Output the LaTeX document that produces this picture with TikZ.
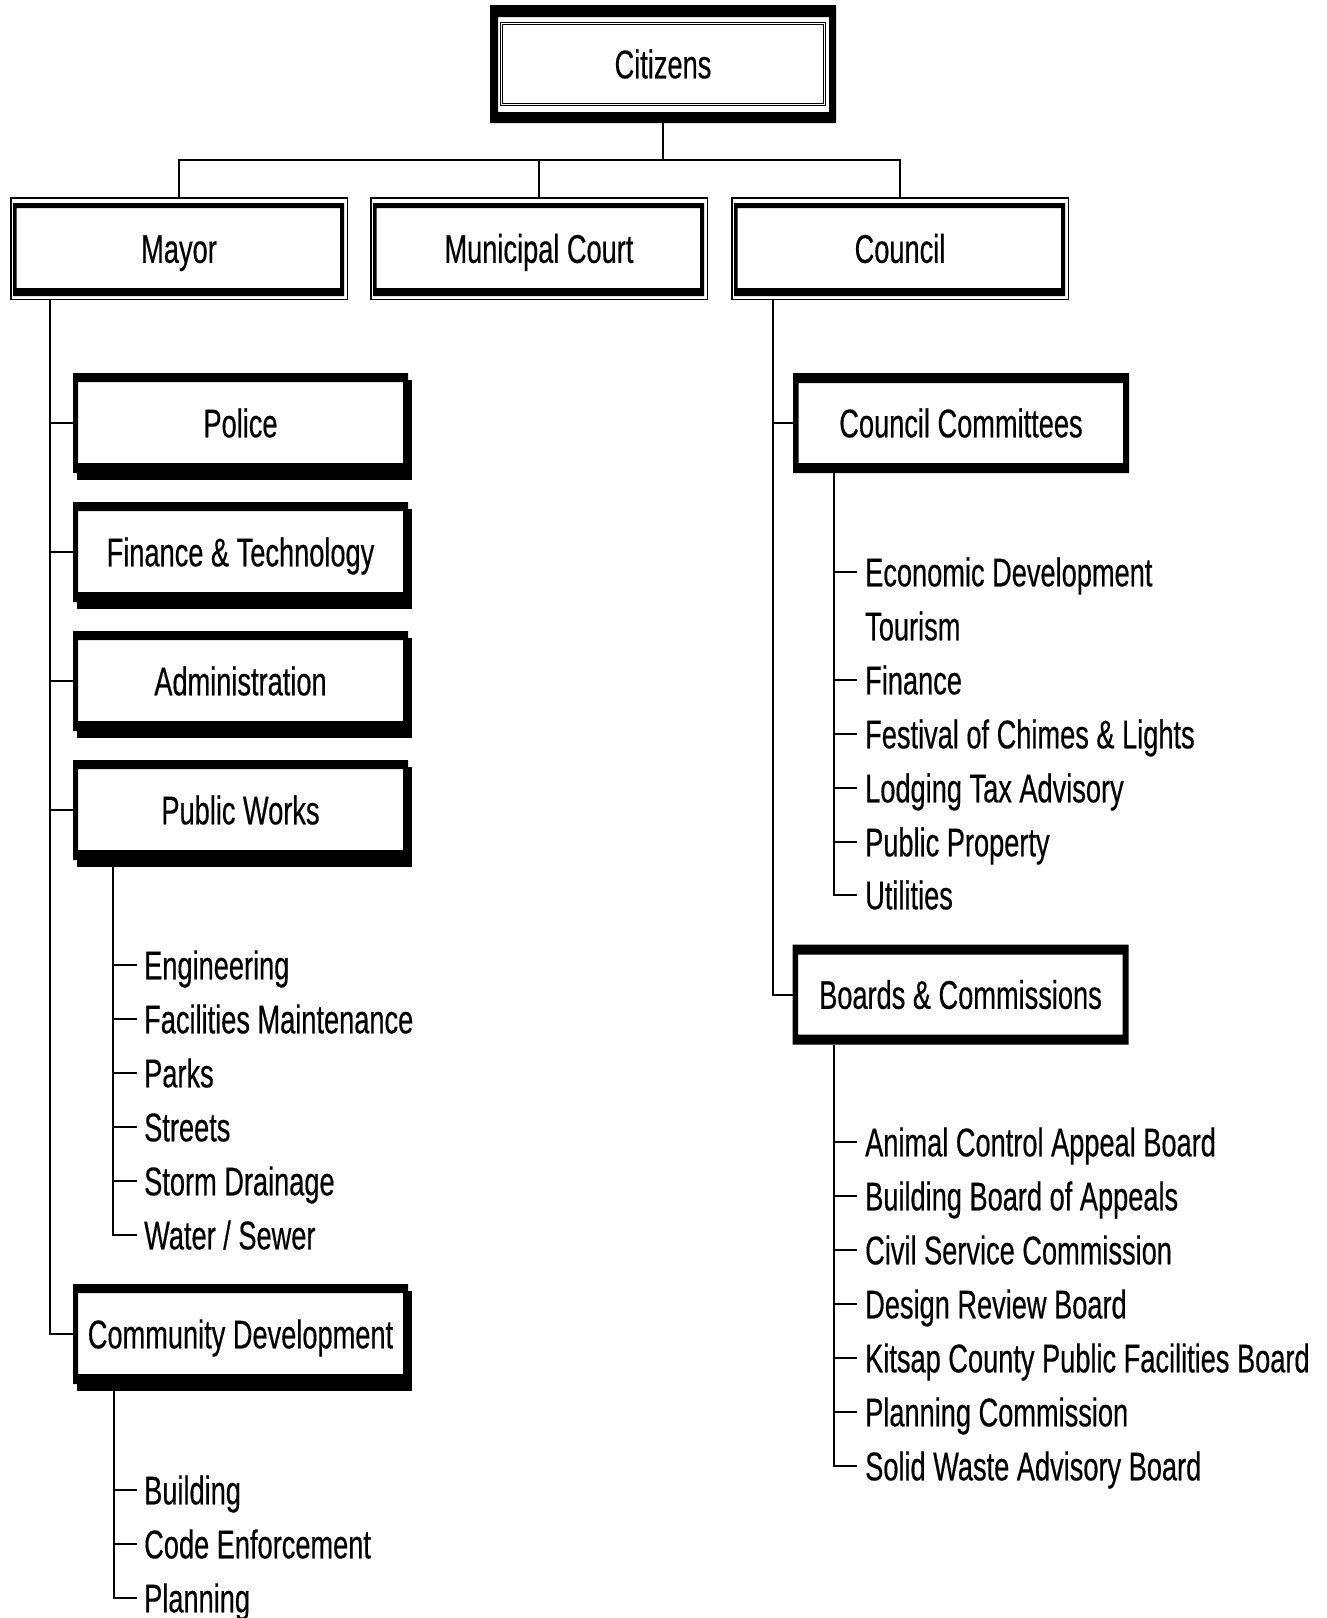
\documentclass[tikz,border=0pt]{standalone}
\usepackage{fontspec}
\setmainfont{Liberation Sans}[FakeStretch=0.68,RawFeature={embolden=0.4}]
\usetikzlibrary{shadows}
\begin{document}
\begin{tikzpicture}[x=1pt,y=-1pt,
  lbl/.style={font=\fontsize{40}{48}\selectfont, text height=28.6pt, text depth=0pt},
  topbox/.style={lbl, fill=white, minimum width=346pt, minimum height=118pt, inner sep=0pt, outer sep=0pt},
  courtbox/.style={lbl, draw, line width=1.5pt, fill=white, minimum width=336.5pt, minimum height=101.5pt, inner sep=0pt},
  deptbox/.style={lbl, fill=white, minimum width=335pt, minimum height=100pt, inner sep=0pt, outer sep=0pt,
     drop shadow={shadow xshift=4pt, shadow yshift=-7pt, fill=black, opacity=1}},
  cbox/.style={lbl, fill=white, minimum width=336pt, minimum height=100pt, inner sep=0pt, outer sep=0pt},
  item/.style={lbl, anchor=west, inner sep=0pt},
  conn/.style={line width=2pt},
  frame/.style={fill=black, even odd rule},
]
\useasboundingbox (0,0) rectangle (1327,1618);

% top level
\node[topbox] (citizens) at (663,64) {Citizens};
\fill[frame] ([shift={(-173,-59)}]citizens.center) rectangle ([shift={(173,59)}]citizens.center)
             ([shift={(-165,-47)}]citizens.center) rectangle ([shift={(166,48)}]citizens.center);
\draw[line width=1.2pt, double, double distance=1.4pt]
  ([shift={(-161.5,-40.5)}]citizens.center) rectangle ([shift={(161.5,40.5)}]citizens.center);

\node[courtbox] (mayor) at (179,248.5) {Mayor};
\node[courtbox] (court) at (539,248.5) {Municipal Court};
\node[courtbox] (council) at (900,248.5) {Council};
\foreach \n in {mayor,court,council}{
  \fill[frame] ([shift={(-166,-45.5)}]\n.center) rectangle ([shift={(165,47.5)}]\n.center)
               ([shift={(-162.5,-40.5)}]\n.center) rectangle ([shift={(161,39.5)}]\n.center);
}

\coordinate (bus) at (663,160);
\draw[conn] (citizens.south) -- (bus);
\draw[conn] (mayor.north) |- (bus) -| (council.north);
\draw[conn] (court.north) -- (court.north |- bus);

% mayor departments
\node[deptbox] (police) at (240.5,423) {Police};
\node[deptbox] (fintech) at (240.5,552) {Finance \& Technology};
\node[deptbox] (admin) at (240.5,681) {Administration};
\node[deptbox] (pw) at (240.5,810) {Public Works};
\node[deptbox] (cd) at (240.5,1334) {Community Development};
\foreach \n in {police,fintech,admin,pw,cd}{
  \fill[frame] ([shift={(-167.5,-50)}]\n.center) rectangle ([shift={(167.5,50)}]\n.center)
               ([shift={(-162.5,-41)}]\n.center) rectangle ([shift={(162.5,40)}]\n.center);
}

\coordinate (mspine) at ([xshift=40pt]mayor.south west);
\foreach \d in {police,fintech,admin,pw,cd}{
  \draw[conn] (mspine) |- (\d.west);
}

% public works items
\node[item] (eng) at (144,965) {Engineering};
\node[item] (fac) at (144,1019) {Facilities Maintenance};
\node[item] (parks) at (144,1073) {Parks};
\node[item] (streets) at (144,1127) {Streets};
\node[item] (storm) at (144,1181) {Storm Drainage};
\node[item] (water) at (144,1235) {Water / Sewer};
\coordinate (pwspine) at ([xshift=40pt]pw.south west);
\foreach \i in {eng,fac,parks,streets,storm,water}{
  \draw[conn] (pwspine) |- ([xshift=-7pt]\i.west);
}

% community development items
\node[item] (bldg) at (144,1490) {Building};
\node[item] (code) at (144,1544) {Code Enforcement};
\node[item] (plan) at (144,1598) {Planning};
\coordinate (cdspine) at ([xshift=41pt]cd.south west);
\foreach \i in {bldg,code,plan}{
  \draw[conn] (cdspine) |- ([xshift=-7pt]\i.west);
}

% council side
\node[cbox] (cc) at (961,423) {Council Committees};
\node[cbox] (bc) at (960.5,994.5) {Boards \& Commissions};
\foreach \n in {cc,bc}{
  \fill[frame] ([shift={(-168,-50)}]\n.center) rectangle ([shift={(168,50)}]\n.center)
               ([shift={(-162.5,-40)}]\n.center) rectangle ([shift={(162,40)}]\n.center);
}
\coordinate (cspine) at ([xshift=-127pt]council.south);
\foreach \d in {cc,bc}{
  \draw[conn] (cspine) |- (\d.west);
}

\node[item] (econ) at (865,572) {Economic Development};
\node[item] (tour) at (865,626) {Tourism};
\node[item] (fin) at (865,680) {Finance};
\node[item] (fest) at (865,734) {Festival of Chimes \& Lights};
\node[item] (lodg) at (865,788) {Lodging Tax Advisory};
\node[item] (prop) at (865,842) {Public Property};
\node[item] (util) at (865,895) {Utilities};
\coordinate (ccspine) at ([xshift=41pt]cc.south west);
\foreach \i in {econ,fin,fest,lodg,prop,util}{
  \draw[conn] (ccspine) |- ([xshift=-8pt]\i.west);
}

\node[item] (anim) at (865,1142) {Animal Control Appeal Board};
\node[item] (bba) at (865,1196) {Building Board of Appeals};
\node[item] (csc) at (865,1250) {Civil Service Commission};
\node[item] (drb) at (865,1304) {Design Review Board};
\node[item] (kitsap) at (865,1358) {Kitsap County Public Facilities Board};
\node[item] (pc) at (865,1412) {Planning Commission};
\node[item] (swab) at (865,1466) {Solid Waste Advisory Board};
\coordinate (bcspine) at ([xshift=41pt]bc.south west);
\foreach \i in {anim,bba,csc,drb,kitsap,pc,swab}{
  \draw[conn] (bcspine) |- ([xshift=-8pt]\i.west);
}
\end{tikzpicture}
\end{document}
